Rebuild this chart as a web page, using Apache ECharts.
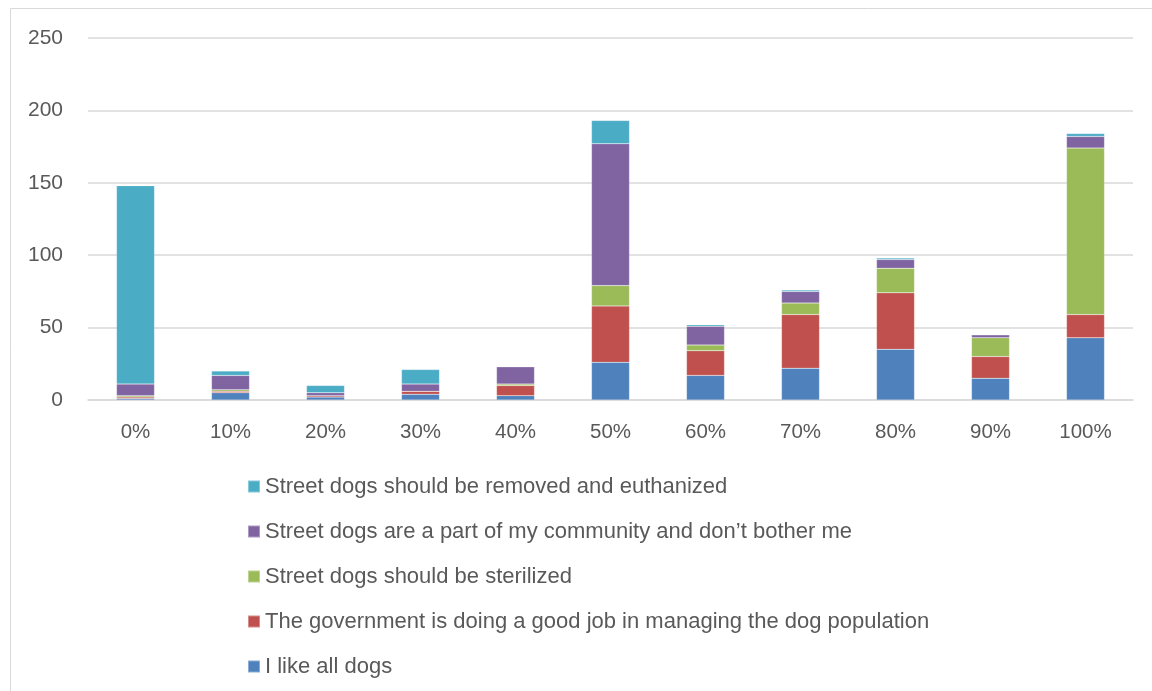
<!DOCTYPE html>
<html>
<head>
<meta charset="utf-8">
<script src="https://cdn.jsdelivr.net/npm/echarts@6/dist/echarts.min.js"></script>
<style>
  html, body { margin: 0; padding: 0; background: #ffffff; }
  #chart { width: 1152px; height: 691px; }
</style>
</head>
<body>
<div id="chart"></div>
<script>
// Share of respondents (x axis) and counts per opinion, stacked bottom to top
const categories = ['0%', '10%', '20%', '30%', '40%', '50%', '60%', '70%', '80%', '90%', '100%'];
const likeAllDogs   = [1, 5, 2, 4, 3, 26, 17, 22, 35, 15, 43];
const governmentJob = [1, 1, 1, 2, 7, 39, 17, 37, 39, 15, 16];
const sterilized    = [1, 1, 0, 0, 1, 14, 4, 8, 17, 13, 115];
const partOfCommunity = [8, 10, 2, 5, 12, 98, 13, 8, 6, 2, 8];
const removeEuthanize = [137, 3, 5, 10, 0, 16, 1, 1, 1, 0, 2];
const yTicks = [0, 50, 100, 150, 200, 250];

const seriesNames = [
  'I like all dogs',
  'The government is doing a good job in managing the dog population',
  'Street dogs should be sterilized',
  'Street dogs are a part of my community and don\u2019t bother me',
  'Street dogs should be removed and euthanized'
];
const seriesData = [likeAllDogs, governmentJob, sterilized, partOfCommunity, removeEuthanize];
const colors = ['#4F81BD', '#C0504D', '#9BBB59', '#8064A2', '#4BACC6'];

const FONT = 'Liberation Sans';
const chart = echarts.init(document.getElementById('chart'), null, { renderer: 'canvas' });

chart.setOption({
  animation: false,
  backgroundColor: '#ffffff',
  color: colors,
  graphic: [{
    type: 'rect',
    shape: { x: 10.5, y: 8.5, width: 1200, height: 720 },
    style: { fill: 'none', stroke: '#d9d9d9', lineWidth: 1 },
    silent: true
  }],
  grid: { left: 88, right: 19, top: 38, bottom: 291 },
  legend: {
    orient: 'vertical',
    left: 242,
    top: 470,
    itemWidth: 12,
    itemHeight: 12,
    itemGap: 22,
    icon: 'rect',
    data: seriesNames.slice().reverse(),
    textStyle: { fontFamily: FONT, fontSize: 22, color: '#595959', lineHeight: 23 }
  },
  xAxis: {
    type: 'category',
    data: categories,
    axisLine: { lineStyle: { color: '#d9d9d9', width: 1.5 } },
    axisTick: { show: false },
    axisLabel: { fontFamily: FONT, fontSize: 20.5, color: '#595959', margin: 22 }
  },
  yAxis: {
    type: 'value',
    min: yTicks[0],
    max: yTicks[yTicks.length - 1],
    interval: yTicks[1] - yTicks[0],
    axisLine: { show: false },
    axisTick: { show: false },
    splitLine: { lineStyle: { color: '#d9d9d9', width: 1.5 } },
    axisLabel: { fontFamily: FONT, fontSize: 21, color: '#595959', margin: 25 }
  },
  series: seriesNames.map((name, i) => ({
    name: name,
    type: 'bar',
    stack: 'opinions',
    barWidth: '40%',
    data: seriesData[i],
    itemStyle: { color: colors[i], borderColor: 'rgba(255,255,255,0.35)', borderWidth: 0.5 }
  }))
});
</script>
</body>
</html>
